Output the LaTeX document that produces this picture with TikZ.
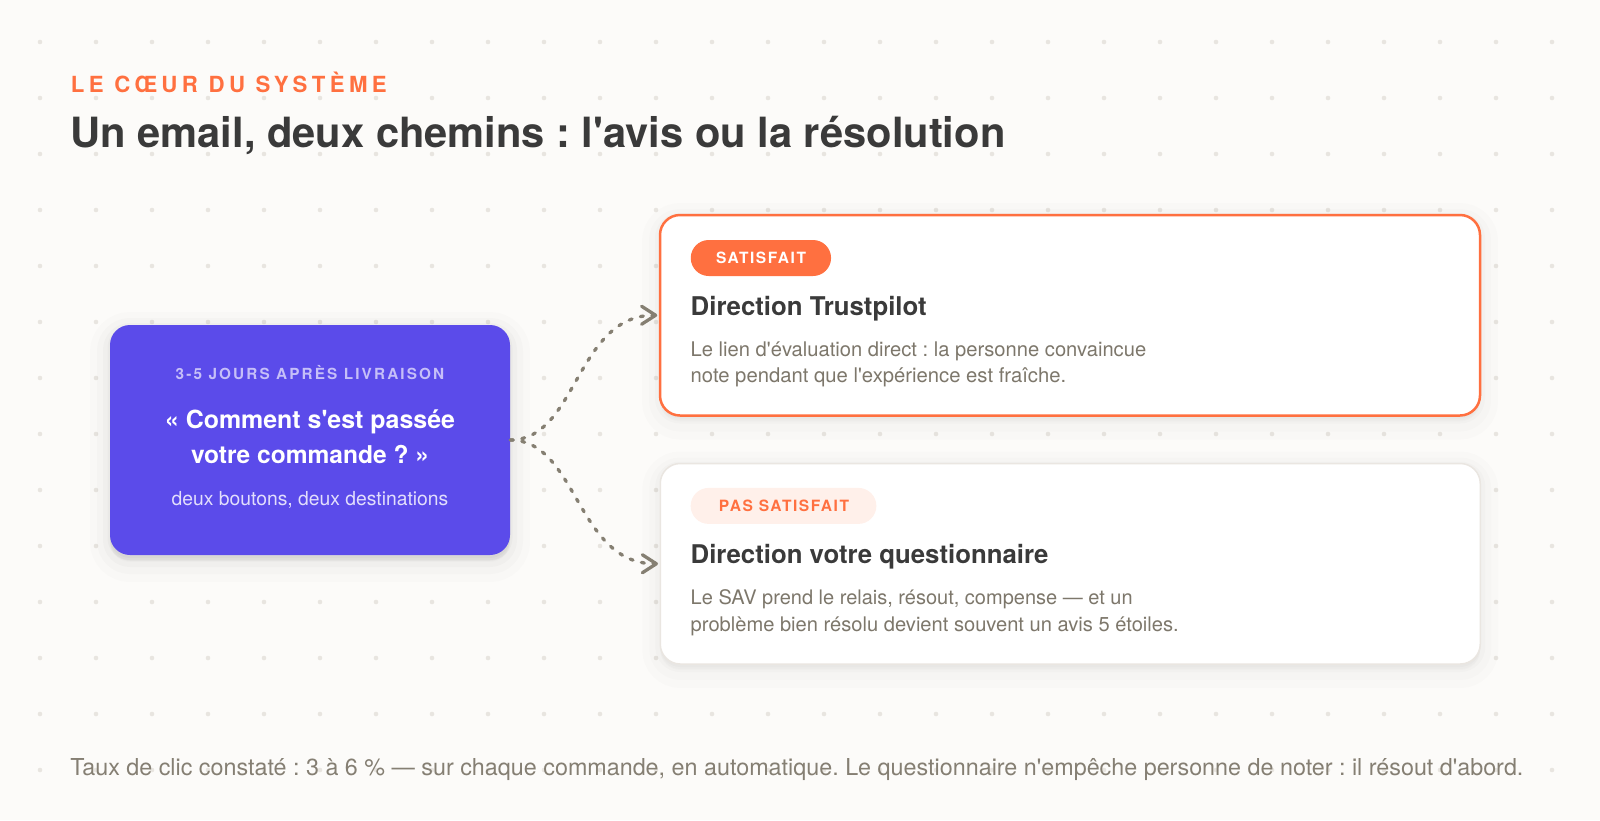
\documentclass[tikz,border=0pt]{standalone}
\usepackage{fontspec}
\setmainfont{TeX Gyre Heros}[Ligatures=TeXOff]
\usepackage{graphicx}
\usetikzlibrary{arrows.meta,shadows}
\definecolor{bgc}{HTML}{FCFBF9}
\definecolor{dotc}{HTML}{E8E5E0}
\definecolor{orangec}{HTML}{FF7040}
\definecolor{darkc}{HTML}{3A3A3A}
\definecolor{purplec}{HTML}{5B4BEA}
\definecolor{lavc}{HTML}{C6BFF8}
\definecolor{lavtext}{HTML}{E2DEFC}
\definecolor{bodyc}{HTML}{7D776B}
\definecolor{footc}{HTML}{857F73}
\definecolor{peachc}{HTML}{FFF0EA}
\definecolor{borderc}{HTML}{EAE6E1}
\definecolor{connc}{HTML}{857F72}
\newcommand\fitw[2]{\resizebox{#1pt}{!}{#2}}
\frenchspacing
\begin{document}
\begin{tikzpicture}[x=1pt,y=-1pt,
  txt/.style={inner sep=0pt, outer sep=0pt},
  boxshadow/.style={drop shadow={shadow xshift=0pt,shadow yshift=-7pt,opacity=0.012,fill=black,draw=black,line width=40pt},
                    drop shadow={shadow xshift=0pt,shadow yshift=-6pt,opacity=0.015,fill=black,draw=black,line width=26pt},
                    drop shadow={shadow xshift=0pt,shadow yshift=-5pt,opacity=0.02,fill=black,draw=black,line width=14pt},
                    drop shadow={shadow xshift=0pt,shadow yshift=-3pt,opacity=0.025,fill=black,draw=black,line width=5pt}},
  cardshadow/.style={drop shadow={shadow xshift=0pt,shadow yshift=-6pt,opacity=0.01,fill=black,draw=black,line width=36pt},
                     drop shadow={shadow xshift=0pt,shadow yshift=-5pt,opacity=0.012,fill=black,draw=black,line width=22pt},
                     drop shadow={shadow xshift=0pt,shadow yshift=-3pt,opacity=0.015,fill=black,draw=black,line width=10pt}},
  mainbox/.style={rectangle, rounded corners=20pt, fill=purplec, inner sep=0pt, minimum width=400pt, minimum height=230pt, boxshadow},
  card/.style={rectangle, rounded corners=20pt, fill=white, inner sep=0pt, minimum width=820pt, minimum height=200.5pt, cardshadow},
  pill/.style={rectangle, rounded corners=18pt, inner sep=0pt, minimum height=36pt},
  conn/.style={draw=connc, line width=3.3pt, line cap=round, dash pattern=on 3pt off 8.7pt,
               -{Straight Barb[length=14pt,width=18pt,round]}, shorten >=1.5pt},
]
\useasboundingbox (0,0) rectangle (1600,820);
\fill[bgc] (0,0) rectangle (1600,820);
\foreach \i in {0,...,27}{
  \foreach \j in {0,...,13}{
    \fill[dotc] (40+56*\i, 42+56*\j) circle (2.3pt);
  }
}
% header
\node[txt, anchor=base west, text=orangec] (kicker) at (70.8,92)
  {\fitw{316}{\fontsize{20}{24}\selectfont\bfseries\addfontfeature{LetterSpace=20}LE CŒUR DU SYSTÈME}};
\node[txt, anchor=base west, text=darkc] (title) at (70.4,147)
  {\fitw{935}{\fontsize{42}{48}\selectfont\bfseries Un email, deux chemins : l'avis ou la résolution}};

% main box
\node[mainbox] (email) at (310,440) {};
\node[txt, anchor=base, text=lavc] (when) at (310,379)
  {\fitw{268.5}{\fontsize{15}{18}\selectfont\bfseries\addfontfeature{LetterSpace=14}3-5 JOURS APRÈS LIVRAISON}};
\node[txt, anchor=base, text=white] (q1) at (310,428.5)
  {\fitw{290}{\fontsize{23}{28}\selectfont\bfseries « Comment s'est passée}};
\node[txt, anchor=base, text=white] (q2) at (310,463.3)
  {\fitw{238}{\fontsize{23}{28}\selectfont\bfseries votre commande ? »}};
\node[txt, anchor=base, text=lavtext] (sub) at (310,505)
  {\fitw{276.7}{\fontsize{19}{23}\selectfont deux boutons, deux destinations}};

% cards
\node[card, draw=orangec, line width=2.5pt] (c1) at (1070,315.25) {};
\node[card, draw=borderc, line width=1.5pt] (c2) at (1070.25,563.75) {};

% connectors
\draw[conn] (email.east) .. controls +(67,0) and +(-83,0) .. (c1.west);
\draw[conn] (email.east) .. controls +(67,0) and +(-83,0) .. (c2.west);

% card 1 content
\node[pill, fill=orangec, minimum width=140.3pt] (b1) at (760.9,258) {};
\node[txt, anchor=base, text=white] (b1t) at (761,263.3)
  {\fitw{90}{\fontsize{15}{18}\selectfont\bfseries\addfontfeature{LetterSpace=10}SATISFAIT}};
\node[txt, anchor=base west, text=darkc] (c1title) at (690.7,315)
  {\fitw{236}{\fontsize{24}{29}\selectfont\bfseries Direction Trustpilot}};
\node[txt, anchor=base west, text=bodyc] (c1l1) at (690.7,356.7)
  {\fitw{455.5}{\fontsize{20}{24}\selectfont Le lien d'évaluation direct : la personne convaincue}};
\node[txt, anchor=base west, text=bodyc] (c1l2) at (690.7,382.7)
  {\fitw{375.5}{\fontsize{20}{24}\selectfont note pendant que l'expérience est fraîche.}};

% card 2 content
\node[pill, fill=peachc, minimum width=185.7pt] (b2) at (783.5,505.9) {};
\node[txt, anchor=base, text=orangec] (b2t) at (784,511)
  {\fitw{130.2}{\fontsize{15}{18}\selectfont\bfseries\addfontfeature{LetterSpace=10}PAS SATISFAIT}};
\node[txt, anchor=base west, text=darkc] (c2title) at (690.7,563.3)
  {\fitw{357.8}{\fontsize{24}{29}\selectfont\bfseries Direction votre questionnaire}};
\node[txt, anchor=base west, text=bodyc] (c2l1) at (690.7,604.3)
  {\fitw{442}{\fontsize{20}{24}\selectfont Le SAV prend le relais, résout, compense — et un}};
\node[txt, anchor=base west, text=bodyc] (c2l2) at (690.7,631)
  {\fitw{488}{\fontsize{20}{24}\selectfont problème bien résolu devient souvent un avis 5 étoiles.}};

% footer
\node[txt, anchor=base west, text=footc] (foot) at (70.4,775)
  {\fitw{1453}{\fontsize{22}{26}\selectfont Taux de clic constaté : 3 à 6 \% — sur chaque commande, en automatique. Le questionnaire n'empêche personne de noter : il résout d'abord.}};
\end{tikzpicture}
\end{document}
